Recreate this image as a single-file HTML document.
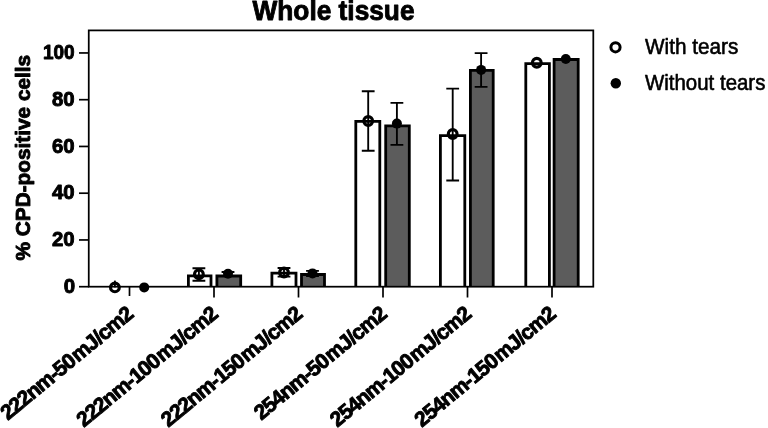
<!DOCTYPE html><html><head><meta charset="utf-8"><title>Whole tissue</title><style>html,body{margin:0;padding:0;background:#fff}svg{display:block;filter:blur(0.4px)}text{font-family:"Liberation Sans",Arial,sans-serif;fill:#000}.b{font-weight:bold;stroke:#000;stroke-width:0.9px;stroke-linejoin:round}.r{stroke:#000;stroke-width:0.6px;stroke-linejoin:round}</style></head><body>
<svg width="768" height="428" viewBox="0 0 768 428">
<rect width="768" height="428" fill="#fff"/>
<text x="333.5" y="19.5" font-size="27.6" class="b" text-anchor="middle" textLength="162" lengthAdjust="spacingAndGlyphs">Whole tissue</text>
<path d="M188.40 286.7V275.80H211.00V286.7" fill="#fff" stroke="#000" stroke-width="2.8"/>
<path d="M216.90 286.7V276.00H240.70V286.7" fill="#5c5c5c" stroke="#000" stroke-width="2.8"/>
<path d="M271.90 286.7V273.10H296.00V286.7" fill="#fff" stroke="#000" stroke-width="2.8"/>
<path d="M301.50 286.7V274.50H324.50V286.7" fill="#5c5c5c" stroke="#000" stroke-width="2.8"/>
<path d="M355.80 286.7V121.30H379.80V286.7" fill="#fff" stroke="#000" stroke-width="2.8"/>
<path d="M385.70 286.7V125.90H409.30V286.7" fill="#5c5c5c" stroke="#000" stroke-width="2.8"/>
<path d="M440.40 286.7V135.70H464.80V286.7" fill="#fff" stroke="#000" stroke-width="2.8"/>
<path d="M470.40 286.7V70.40H493.20V286.7" fill="#5c5c5c" stroke="#000" stroke-width="2.8"/>
<path d="M525.80 286.7V63.60H549.40V286.7" fill="#fff" stroke="#000" stroke-width="2.8"/>
<path d="M554.10 286.7V59.50H578.20V286.7" fill="#5c5c5c" stroke="#000" stroke-width="2.8"/>
<path d="M114.90 280.60V287.40" stroke="#000" stroke-width="1.85" fill="none"/>
<circle cx="114.90" cy="287.40" r="4.35" fill="none" stroke="#000" stroke-width="3.2"/>
<circle cx="144.20" cy="287.40" r="5" fill="#000"/>
<path d="M198.90 268.20V280.70M192.50 268.20h12.8M192.50 280.70h12.8" stroke="#000" stroke-width="1.85" fill="none"/>
<circle cx="198.90" cy="274.30" r="4.35" fill="none" stroke="#000" stroke-width="3.2"/>
<path d="M228.00 272.00V275.80M221.60 272.00h12.8M221.60 275.80h12.8" stroke="#000" stroke-width="1.85" fill="none"/>
<circle cx="228.00" cy="273.80" r="5" fill="#000"/>
<path d="M284.00 268.00V276.60M277.60 268.00h12.8M277.60 276.60h12.8" stroke="#000" stroke-width="1.85" fill="none"/>
<circle cx="284.00" cy="272.50" r="4.35" fill="none" stroke="#000" stroke-width="3.2"/>
<path d="M312.50 270.90V276.00M306.10 270.90h12.8M306.10 276.00h12.8" stroke="#000" stroke-width="1.85" fill="none"/>
<circle cx="312.50" cy="273.40" r="5" fill="#000"/>
<path d="M368.20 91.20V150.70M361.80 91.20h12.8M361.80 150.70h12.8" stroke="#000" stroke-width="1.85" fill="none"/>
<circle cx="368.20" cy="121.00" r="4.35" fill="none" stroke="#000" stroke-width="3.2"/>
<path d="M396.90 102.80V144.90M390.50 102.80h12.8M390.50 144.90h12.8" stroke="#000" stroke-width="1.85" fill="none"/>
<circle cx="396.90" cy="123.60" r="5" fill="#000"/>
<path d="M452.70 88.65V180.50M446.30 88.65h12.8M446.30 180.50h12.8" stroke="#000" stroke-width="1.85" fill="none"/>
<circle cx="452.70" cy="134.00" r="4.35" fill="none" stroke="#000" stroke-width="3.2"/>
<path d="M481.10 53.10V86.80M474.70 53.10h12.8M474.70 86.80h12.8" stroke="#000" stroke-width="1.85" fill="none"/>
<circle cx="481.10" cy="69.90" r="5" fill="#000"/>
<circle cx="536.80" cy="62.75" r="4.35" fill="none" stroke="#000" stroke-width="3.2"/>
<circle cx="565.80" cy="59.00" r="5" fill="#000"/>
<rect x="88.75" y="30.4" width="504.54999999999995" height="256.3" fill="none" stroke="#000" stroke-width="1.75"/>
<path d="M79 286.70H88.75" stroke="#000" stroke-width="1.7"/>
<text x="75.2" y="292.90" font-size="19.6" class="b" text-anchor="end" textLength="11.4" lengthAdjust="spacingAndGlyphs">0</text>
<path d="M79 239.95H88.75" stroke="#000" stroke-width="1.7"/>
<text x="74.6" y="246.15" font-size="19.6" class="b" text-anchor="end" textLength="22.6" lengthAdjust="spacingAndGlyphs">20</text>
<path d="M79 193.20H88.75" stroke="#000" stroke-width="1.7"/>
<text x="74.6" y="199.40" font-size="19.6" class="b" text-anchor="end" textLength="22.6" lengthAdjust="spacingAndGlyphs">40</text>
<path d="M79 146.45H88.75" stroke="#000" stroke-width="1.7"/>
<text x="74.6" y="152.65" font-size="19.6" class="b" text-anchor="end" textLength="22.6" lengthAdjust="spacingAndGlyphs">60</text>
<path d="M79 99.70H88.75" stroke="#000" stroke-width="1.7"/>
<text x="74.6" y="105.90" font-size="19.6" class="b" text-anchor="end" textLength="22.6" lengthAdjust="spacingAndGlyphs">80</text>
<path d="M79 52.95H88.75" stroke="#000" stroke-width="1.7"/>
<text x="74.6" y="59.15" font-size="19.6" class="b" text-anchor="end" textLength="31.7" lengthAdjust="spacingAndGlyphs">100</text>
<path d="M129.5 286.7V296" stroke="#000" stroke-width="1.7"/>
<text transform="translate(129.60,310.6) rotate(-39.5)" font-size="21" class="b" word-spacing="-3.5" text-anchor="end" dominant-baseline="central" letter-spacing="-0.88">222nm-50 mJ/cm2</text>
<path d="M214.0 286.7V297.5" stroke="#000" stroke-width="1.7"/>
<text transform="translate(214.10,310.6) rotate(-39.5)" font-size="21" class="b" word-spacing="-3.5" text-anchor="end" dominant-baseline="central" letter-spacing="-0.88">222nm-100 mJ/cm2</text>
<path d="M298.5 286.7V297.5" stroke="#000" stroke-width="1.7"/>
<text transform="translate(298.60,310.6) rotate(-39.5)" font-size="21" class="b" word-spacing="-3.5" text-anchor="end" dominant-baseline="central" letter-spacing="-0.88">222nm-150 mJ/cm2</text>
<path d="M383.0 286.7V297.5" stroke="#000" stroke-width="1.7"/>
<text transform="translate(383.10,310.6) rotate(-39.5)" font-size="21" class="b" word-spacing="-3.5" text-anchor="end" dominant-baseline="central" letter-spacing="-0.88">254nm-50 mJ/cm2</text>
<path d="M467.5 286.7V297.5" stroke="#000" stroke-width="1.7"/>
<text transform="translate(467.60,310.6) rotate(-39.5)" font-size="21" class="b" word-spacing="-3.5" text-anchor="end" dominant-baseline="central" letter-spacing="-0.88">254nm-100 mJ/cm2</text>
<path d="M552.0 286.7V297.5" stroke="#000" stroke-width="1.7"/>
<text transform="translate(552.10,310.6) rotate(-39.5)" font-size="21" class="b" word-spacing="-3.5" text-anchor="end" dominant-baseline="central" letter-spacing="-0.88">254nm-150 mJ/cm2</text>
<text transform="translate(29.7,157.7) rotate(-90)" font-size="21" class="b" text-anchor="middle" textLength="205.6" lengthAdjust="spacingAndGlyphs">% CPD-positive cells</text>
<circle cx="615.5" cy="47.3" r="4.6" fill="none" stroke="#000" stroke-width="3"/>
<circle cx="615.8" cy="83.2" r="5.2" fill="#000"/>
<text x="645" y="53.6" font-size="22" class="r" textLength="93.3" lengthAdjust="spacingAndGlyphs">With tears</text>
<text x="645" y="89.5" font-size="22" class="r" textLength="120.4" lengthAdjust="spacingAndGlyphs">Without tears</text>
</svg></body></html>
